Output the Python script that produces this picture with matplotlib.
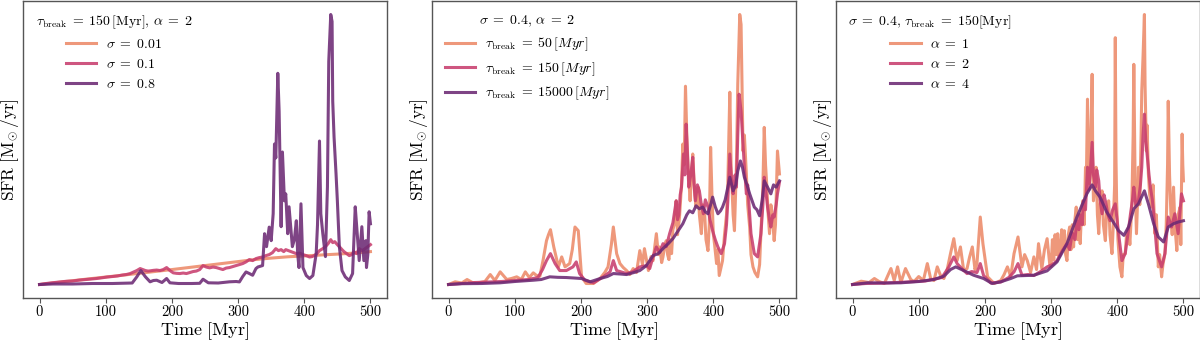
import matplotlib
matplotlib.use("Agg")
import matplotlib.pyplot as plt

# ---------------- data (arbitrary SFR units) ----------------
# Panel 1: tau_break = 150 Myr, alpha = 2, varying sigma
p1_s001_t = [0, 25, 50, 75, 100, 125, 150, 175, 200, 225, 250, 275, 300, 325, 350, 375, 400, 425, 450, 475, 500]
p1_s001_v = [0, 1.9, 3.8, 5.7, 7.5, 9.3, 11.2, 13.1, 15, 17, 19, 21, 23, 25, 26.5, 27.8, 28.7, 29.6, 30.5, 31.5, 33]

p1_s01_t = [0, 10, 20, 30, 40, 50, 60, 70, 78, 86, 95, 102, 110, 118, 125, 131, 137, 142, 147, 152, 156,
            160, 164, 167, 172, 177, 182, 187, 192, 197, 202, 207, 212, 217, 222, 227, 232, 237, 242,
            247, 252, 257, 262, 267, 272, 277, 282, 287, 292, 297, 302, 307, 312, 317, 322, 327, 332,
            337, 342, 347, 352, 357, 361, 365, 369, 372, 376, 380, 384, 388, 393, 398, 403, 408, 412,
            415, 419, 423, 428, 432, 436, 440, 443, 446, 450, 453, 457, 460, 464, 468, 472, 475, 479,
            483, 487, 490, 494, 498, 500]
p1_s01_v = [0, 1, 1.8, 2.5, 3.2, 3.5, 4.4, 5, 5.5, 6, 6.8, 7.5, 8, 8.6, 9.5, 10, 11, 12.5, 14, 16, 15,
            14, 13.5, 13.7, 14.2, 14.5, 14, 15, 17, 14, 11.7, 11.2, 11, 11.5, 11, 12, 13, 13.5, 15,
            19, 17.5, 16.7, 17.5, 17, 16, 15, 16.5, 17, 18, 19, 20, 21, 22.7, 25, 24, 26, 27,
            27.6, 29, 30, 32, 36, 34, 35, 33, 35, 34, 33, 32, 31, 31.5, 30, 29, 27.6, 28,
            29, 31, 34, 36, 38, 41, 45, 42, 43, 40, 38, 35, 33, 31, 29, 30, 33, 31,
            36, 34, 35, 37, 39, 40]

p1_s08_t = [0, 20, 50, 80, 110, 140, 147, 153, 160, 167, 172, 177, 185, 192, 197, 210, 230, 242, 247, 255,
            270, 287, 297, 302, 307, 312, 317, 322, 327, 330, 337, 340, 343, 347, 350, 353, 355, 357, 360,
            362, 365, 367, 370, 372, 375, 377, 382, 385, 388, 390, 392, 395, 398, 403, 408, 413, 418,
            420, 423, 425, 428, 432, 435, 437, 440, 442, 443, 445, 448, 450, 453, 457, 462, 468, 473,
            477, 480, 483, 487, 490, 493, 494, 496, 498, 500]
p1_s08_v = [0, 0.5, 0.5, 1, 1, 1.5, 7.7, 14, 7.7, 2.7, 4, 4.3, 2, 6, 1.7, 1, 1, 1.2, 5.3, 1.7,
            1.5, 2.7, 3, 2.6, 8, 12.6, 11, 9.3, 16, 17.6, 19, 51, 38, 57.6, 44, 71, 141, 127, 212,
            174, 58, 133, 84, 91, 51, 78, 38, 45, 64, 31, 17, 81, 17, 9, 6, 9, 31,
            60, 144, 71, 51, 28, 98, 224, 271, 264, 184, 148, 111, 84, 38, 14, 7.6, 4, 11,
            78, 51, 24, 58, 24, 44, 17, 30, 73, 61]

# Panel 2: sigma = 0.4, alpha = 2, varying tau_break
p2_t50_t = [0, 10, 20, 28, 36, 43, 55, 63, 70, 78, 88, 95, 103, 110, 116, 122, 128, 133, 138, 143, 148, 151,
            154, 159, 166, 171, 176, 183, 187, 191, 196, 201, 208, 219, 229, 236, 241, 246, 249, 254, 259,
            264, 269, 274, 279, 284, 289, 293, 296, 302, 306, 309, 314, 317, 319, 322, 324, 327, 329, 331,
            333, 335, 337, 339, 341, 344, 346, 349, 352, 354, 356, 358, 360, 362, 365, 367, 369, 372, 374,
            377, 379, 382, 384, 387, 389, 392, 394, 396, 398, 400, 402, 405, 407, 409, 411, 414, 417, 420,
            422, 425, 427, 430, 432, 435, 437, 440, 442, 445, 447, 450, 452, 455, 457, 460, 463, 467,
            470, 472, 475, 477, 479, 481, 483, 485, 487, 489, 492, 494, 497, 500]
p2_t50_v = [0, 2.7, 1.5, 5, 2, 1.5, 3, 10, 4, 12.7, 5, 6, 7.7, 5, 12.7, 7, 11.7, 9, 8.3, 25, 44, 50,
            55, 37.7, 17.7, 27.7, 17.7, 21, 35, 57.7, 54, 7.7, 1, 1, 6, 12, 17.7, 40, 57.7, 31, 21,
            17, 14, 10, 16, 12, 34, 20, 36, 14, 28, 24, 51, 30, 37.7, 22, 27.7, 40, 44, 30,
            25, 45, 31, 55, 60, 84, 50, 67.7, 100, 141, 120, 199, 150, 117.7, 84, 110, 131, 90, 77.7,
            97.7, 70, 51, 80, 71, 45, 34, 60, 137.7, 90, 51, 40, 21, 35, 9, 15, 24, 50, 70,
            101, 193, 117.7, 70, 54, 120, 201, 271, 261, 134, 150, 111, 80, 57.7, 30, 17.7, 12, 7.7,
            20, 51, 100, 157.7, 120, 97.7, 70, 51, 80, 71, 44, 60, 134, 111]

p2_t150_t = [0, 20, 40, 60, 80, 100, 120, 135, 142, 148, 154, 161, 168, 178, 188, 193, 198, 206, 219, 234,
             244, 249, 254, 269, 279, 289, 299, 304, 309, 314, 319, 324, 329, 334, 339, 342, 344, 346, 348,
             350, 352, 355, 357, 359, 361, 363, 366, 369, 371, 373, 376, 379, 382, 385, 388, 392, 395, 399,
             403, 407, 412, 417, 420, 422, 425, 428, 430, 433, 435, 437, 439, 442, 445, 447, 450, 452, 455,
             457, 462, 467, 472, 475, 477, 480, 482, 485, 487, 490, 492, 495, 497, 500]
p2_t150_v = [0, 1, 2, 2.5, 3, 4, 5, 7, 15, 24, 31, 21, 14, 14, 17.7, 22.7, 11, 4.3, 1.7, 7.7,
             12.7, 24, 14, 11, 13, 17.7, 19, 16, 27.7, 37.7, 32, 41, 38, 51, 62, 75, 84, 65, 70,
             90, 97.7, 131, 110, 161, 130, 97.7, 110, 127.7, 100, 84, 100, 94, 80, 71, 85, 77.7, 65, 54,
             45, 37.7, 31, 41, 60, 84, 131, 100, 91, 110, 97.7, 150, 191, 174, 140, 117.7, 91, 100, 70,
             51, 31, 27.7, 51, 80, 107.7, 90, 77.7, 65, 57.7, 70, 67.7, 80, 91, 102.7]

p2_t15000_t = [0, 20, 50, 78, 100, 128, 140, 153, 165, 178, 190, 201, 214, 229, 240, 249, 260, 269, 280, 289,
               299, 309, 317, 324, 332, 339, 347, 354, 360, 364, 369, 374, 379, 384, 388, 392, 396, 399, 403,
               407, 411, 414, 418, 422, 425, 430, 434, 437, 441, 444, 447, 451, 455, 462, 466, 470, 474, 477,
               482, 487, 491, 495, 500]
p2_t15000_v = [0, 0.8, 1, 1.7, 3, 4.3, 5, 7.7, 7.2, 7, 6.5, 6, 2.7, 6, 8, 11, 10.5, 10, 12, 14,
               19, 29, 31, 36, 41, 46, 54, 61, 70, 74, 72, 79, 76, 77.7, 73, 71, 80, 87.7, 78,
               71, 74, 77.7, 85, 97.7, 107.7, 94, 100, 114, 124, 118, 107.7, 100, 91, 77.7, 75, 69, 85, 104,
               97.7, 91, 100, 97.7, 104]

# Panel 3: sigma = 0.4, tau_break = 150 Myr, varying alpha
p3_a1_t = [0, 13, 25, 33, 40, 48, 58, 63, 68, 73, 80, 88, 93, 100, 107, 113, 118, 123, 128, 133, 138, 143,
           148, 153, 158, 163, 168, 173, 177, 181, 185, 188, 193, 197, 204, 214, 224, 229, 234, 239, 244,
           250, 256, 260, 264, 269, 274, 278, 281, 286, 290, 294, 298,
           300, 302, 304, 306, 308, 310, 312, 314, 316, 318, 320, 322, 324, 326, 328, 330, 332, 334, 336,
           338, 340, 342, 344, 346, 348, 350, 352, 353, 355, 357, 358, 360, 362, 363, 364, 366, 368, 370,
           372, 374, 377, 379, 382, 384, 387, 389, 392, 394, 396, 397, 398, 399, 401, 404, 407, 409, 412,
           414, 417, 419, 422, 424, 425, 427, 429, 431, 432, 434, 436, 437, 439, 441, 442, 444, 445, 447,
           449, 452, 454, 457, 459, 462, 464, 467, 469, 472, 474, 476, 477, 479, 481, 483, 485, 487, 490,
           492, 495, 496, 498, 499, 500]
p3_a1_v = [0, 3.3, 2, 6, 3, 1, 16, 4, 17.7, 2, 16, 5, 3, 8, 4, 21, 6, 4, 17.7, 9, 6, 15,
           31, 46, 24, 37.7, 14, 16, 28, 37.7, 15, 21, 67.7, 41, 7.7, 1, 4, 10, 17.7, 8, 31,
           47.7, 17.7, 30, 24, 12, 27.7, 15, 41, 16, 35, 46, 20,
           18, 45, 25, 50, 30, 51, 28, 31, 55, 35, 54, 30, 24, 50, 57.7, 35, 60, 37.7, 65,
           77.7, 45, 70, 41, 75, 84, 60, 117.7, 90, 186, 110, 101, 140, 211, 120, 84, 100, 117.7, 70,
           51, 80, 94, 60, 44, 75, 84, 50, 31, 60, 100, 247.7, 130, 84, 45, 17.7, 7.7, 30, 31,
           50, 57.7, 40, 80, 150, 221, 100, 51, 90, 117.7, 80, 150, 194, 230, 271, 200, 134, 160, 111,
           90, 77.7, 100, 51, 70, 17.7, 30, 7.7, 20, 31, 60, 120, 184, 110, 71, 50, 97.7, 60, 34,
           70, 77.7, 40, 151, 120, 104]

p3_a2_t = [0, 20, 50, 80, 110, 135, 145, 153, 158, 165, 173, 180, 188, 193, 198, 209, 224, 236, 244, 250,
           256, 265, 274, 284, 294, 302, 309, 317, 324, 328, 332, 336, 339, 342, 344, 347, 349, 352, 355,
           357, 359, 362, 364, 367, 369, 372, 374, 377, 380, 382, 386, 389, 393, 397, 402, 407, 412, 416,
           420, 423, 425, 428, 432, 435, 437, 439, 441, 443, 445, 448, 450, 453, 455, 460, 467, 472,
           477, 482, 487, 492, 497, 500]
p3_a2_v = [0, 1, 1.5, 2.5, 3.5, 7, 17, 27.7, 21, 16, 11, 13, 12, 21, 9, 1.5, 2.5, 7, 12.7, 21,
           9.3, 10, 9, 13, 17.7, 20, 24, 34, 41, 35, 52, 45, 64, 55, 70, 60, 84, 75, 117.7,
           95, 110, 142.7, 110, 97.7, 115, 104, 85, 71, 90, 84, 70, 64, 75, 81, 51, 24, 31, 50,
           71, 85, 97.7, 80, 84, 100, 117.7, 150, 171, 145, 131, 110, 97.7, 85, 71, 31, 17.7, 31,
           67.7, 57.7, 71, 51, 91, 84]

p3_a4_t = [0, 23, 50, 73, 100, 123, 138, 148, 156, 168, 183, 198, 211, 224, 239, 249, 262, 274, 294, 309,
           324, 339, 354, 362, 367, 374, 384, 394, 402, 410, 417, 425, 432, 441, 447, 455, 462, 470, 477,
           485, 492, 500]
p3_a4_v = [0, 1.7, 1.5, 1.7, 3, 5, 8.3, 15, 17.7, 14, 9.3, 6, 1, 2.7, 6, 8.7, 9, 9.3, 13.7, 22.7,
           41, 67.7, 91, 100, 94, 87.7, 72.7, 62.7, 54, 49.3, 57.7, 76, 81, 94, 81, 61, 47.7, 42.7, 57.7,
           61, 62.7, 64]

xticks = [0, 100, 200, 300, 400, 500]

panels = [
    dict(title=r"$\tau_{\rm break}\;=\;150\,[{\rm Myr}],\,\alpha\;=\;2$",
         series=[(p1_s001_t, p1_s001_v, r"$\sigma\;=\;0.01$"),
                 (p1_s01_t, p1_s01_v, r"$\sigma\;=\;0.1$"),
                 (p1_s08_t, p1_s08_v, r"$\sigma\;=\;0.8$")]),
    dict(title=r"$\sigma\;=\;0.4,\,\alpha\;=\;2$",
         series=[(p2_t50_t, p2_t50_v, r"$\tau_{\rm break}\;=\;50\,[Myr]$"),
                 (p2_t150_t, p2_t150_v, r"$\tau_{\rm break}\;=\;150\,[Myr]$"),
                 (p2_t15000_t, p2_t15000_v, r"$\tau_{\rm break}\;=\;15000\,[Myr]$")]),
    dict(title=r"$\sigma\;=\;0.4,\,\tau_{\rm break}\;=\;150[{\rm Myr}]$",
         series=[(p3_a1_t, p3_a1_v, r"$\alpha\;=\;1$"),
                 (p3_a2_t, p3_a2_v, r"$\alpha\;=\;2$"),
                 (p3_a4_t, p3_a4_v, r"$\alpha\;=\;4$")]),
]

colors = ["#EC8A69", "#C83E6E", "#6C2A74"]

plt.rcParams["mathtext.fontset"] = "cm"
plt.rcParams["font.family"] = "serif"
plt.rcParams["font.serif"] = ["cmr10", "DejaVu Serif"]
plt.rcParams["axes.formatter.use_mathtext"] = True

fig = plt.figure(figsize=(12, 3.42), dpi=100)
W, H = 1200, 342
lefts = [23, 432, 836]
width = 364
bottom_px, top_px = 298, 1

for i, p in enumerate(panels):
    ax = fig.add_axes([lefts[i] / W, (H - bottom_px) / H, width / W, (bottom_px - top_px) / H])
    for (t, v, lab), c in zip(p["series"], colors):
        ax.plot(t, v, color=c, lw=2.2, alpha=0.88, label=lab)
    ax.set_xticks(xticks)
    ax.set_xticklabels([str(x) for x in xticks], fontsize=10.5)
    ax.set_yticks([])
    ax.set_xlabel(r"$\mathrm{Time\ [Myr]}$", fontsize=13, labelpad=1)
    ax.set_ylabel(r"$\mathrm{SFR\ [M_{\!\odot}/yr]}$", fontsize=12.5)
    ax.yaxis.set_label_coords(-1.5 / width, 0.5)
    for s in ax.spines.values():
        s.set_color("#555555")
        s.set_linewidth(1.0)
    ax.tick_params(axis="x", length=3.5, width=0.8, color="#555555", pad=2)
    ax.legend(title=p["title"], loc="upper left", frameon=False, fontsize=10,
              title_fontsize=10, handlelength=2.2, labelspacing=0.5,
              borderaxespad=0.5, handletextpad=0.7)

fig.savefig("out.png", dpi=100)
